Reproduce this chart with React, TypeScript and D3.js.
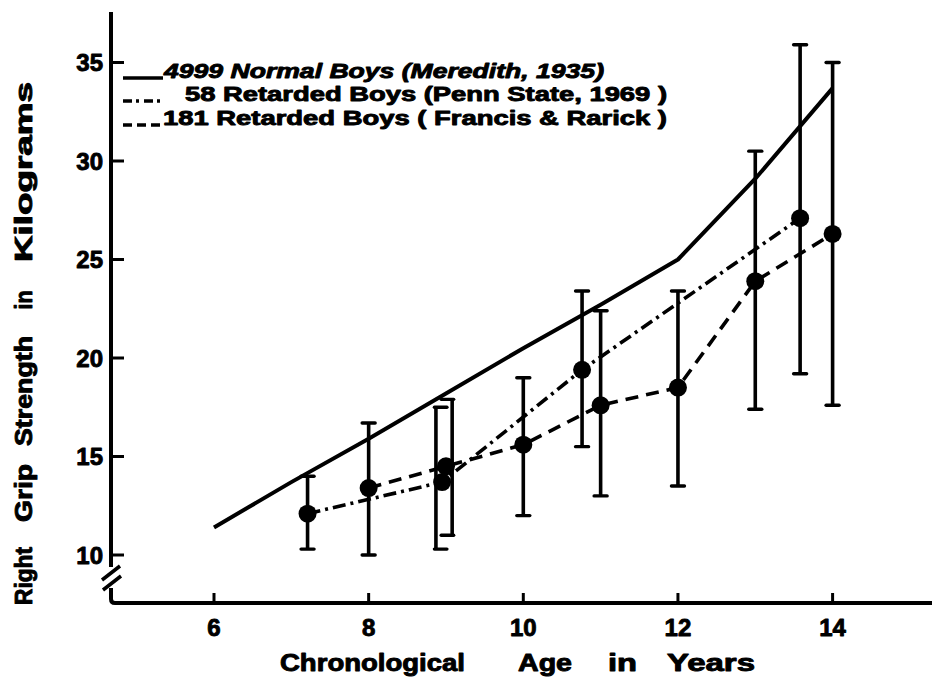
import React from "react";
import * as d3 from "d3";

// Axis ticks
const ageTicks = [6, 8, 10, 12, 14];
const gripTicks = [10, 15, 20, 25, 30, 35];

// 4999 normal boys (Meredith, 1935)
const normalAges = [6, 7, 8, 9, 10, 11, 12, 13, 14];
const normalGrip = [11.4, 13.7, 15.9, 18.2, 20.5, 22.7, 25.0, 29.1, 33.7];

// 58 retarded boys (Penn State, 1969)
const pennAges = [7.21, 8.95, 10.76, 13.58];
const pennGrip = [12.1, 13.7, 19.4, 27.1];
const pennBarAges = [7.21, 8.87, 10.76, 13.58];
const pennLow = [10.3, 10.3, 15.5, 19.2];
const pennHigh = [14.0, 17.5, 23.4, 35.9];

// 181 retarded boys (Francis & Rarick)
const frAges = [8, 9, 10, 11, 12, 13, 14];
const frGrip = [13.4, 14.5, 15.6, 17.6, 18.5, 23.9, 26.3];
const frBarAges = [8, 9.08, 10, 11, 12, 13, 14];
const frLow = [10.0, 11.0, 12.0, 13.0, 13.5, 17.4, 17.6];
const frHigh = [16.7, 17.9, 19.0, 22.4, 23.4, 30.5, 35.0];

const legendLabels = [
  "4999 Normal Boys (Meredith, 1935)",
  "58 Retarded Boys (Penn State, 1969 )",
  "181 Retarded Boys ( Francis & Rarick )",
];

const xTitleWords = ["Chronological", "Age", "in", "Years"];
const yTitleWords = ["Right", "Grip", "Strength", "in", "Kilograms"];

const W = 932;
const H = 680;
const INK = "#000";
const FONT = "'Liberation Sans', Arial, sans-serif";

const DASH_DOT = "13 5 3 5";
const DASHED = "13 8";

type Pt = { age: number; grip: number };
type Bar = { age: number; low: number; high: number; side: "center" | "left" | "right" };

export default function App() {
  const x = d3.scaleLinear().domain([6, 14]).range([214, 832.6]);
  const y = d3.scaleLinear().domain([10, 35]).range([555, 62.5]);

  const line = d3
    .line<Pt>()
    .x((d) => x(d.age))
    .y((d) => y(d.grip));

  const normal: Pt[] = normalAges.map((a, i) => ({ age: a, grip: normalGrip[i] }));
  const penn: Pt[] = pennAges.map((a, i) => ({ age: a, grip: pennGrip[i] }));
  const fr: Pt[] = frAges.map((a, i) => ({ age: a, grip: frGrip[i] }));

  // the two overlapping bars near age 9 are drawn as brackets
  const pennBars: Bar[] = pennBarAges.map((a, i) => ({
    age: a,
    low: pennLow[i],
    high: pennHigh[i],
    side: i === 1 ? "right" : "center",
  }));
  const frBars: Bar[] = frBarAges.map((a, i) => ({
    age: a,
    low: frLow[i],
    high: frHigh[i],
    side: i === 1 ? "left" : "center",
  }));

  const axisX = 111;
  const axisY = 603;
  const capW = 13;

  const capPath = (cx: number, cy: number, side: Bar["side"]) => {
    if (side === "right") return `M${cx - 1.5},${cy}H${cx + capW - 2}`;
    if (side === "left") return `M${cx + 1.5},${cy}H${cx - capW + 2}`;
    return `M${cx - capW / 2},${cy}H${cx + capW / 2}`;
  };

  const renderBars = (bars: Bar[], key: string) =>
    bars.map((b, i) => {
      const cx = x(b.age);
      const y0 = y(b.low);
      const y1 = y(b.high);
      return (
        <g key={`${key}-${i}`}>
          <line x1={cx} x2={cx} y1={y1} y2={y0} stroke={INK} strokeWidth={3.6} />
          <path d={capPath(cx, y1, b.side)} stroke={INK} strokeWidth={3.4} strokeLinecap="round" />
          <path d={capPath(cx, y0, b.side)} stroke={INK} strokeWidth={3.4} strokeLinecap="round" />
        </g>
      );
    });

  // x-axis title word centers and widths
  const xWordX = [372.5, 545, 622.5, 711];
  const xWordLen = [185, 54, 29, 88];
  // y-axis title word centers (along the axis) and lengths
  const yWordY = [576, 493, 391, 300, 172];
  const yWordLen = [58, 58, 110, 19, 180];

  const legendY = [78, 101, 125];
  const legendTextX = [164, 185, 163];
  const legendTextLen = [440, 482, 504];

  // heavy lettering
  const heavy = { stroke: INK, strokeWidth: 0.9, strokeLinejoin: "round" as const };

  return (
    <svg
      width={W}
      height={H}
      viewBox={`0 0 ${W} ${H}`}
      style={{ position: "absolute", left: 0, top: 0, background: "#fff" }}
      fontFamily={FONT}
      fontWeight="bold"
    >
      <rect width={W} height={H} fill="#fff" />

      {/* y axis with break */}
      <path d={`M${axisX},12V567`} stroke={INK} strokeWidth={4} fill="none" />
      <path d={`M102,580L120,566M103,590L121,576`} stroke={INK} strokeWidth={3.5} fill="none" />
      <path
        d={`M${axisX},588V${axisY - 4}Q${axisX},${axisY} ${axisX + 4},${axisY}H${W}`}
        stroke={INK}
        strokeWidth={4}
        fill="none"
      />

      {/* y ticks */}
      {gripTicks.map((t) => (
        <g key={`yt-${t}`}>
          <line x1={axisX} x2={axisX + 13} y1={y(t)} y2={y(t)} stroke={INK} strokeWidth={3} />
          <text x={103} y={y(t) + 8.5} textAnchor="end" fontSize={24} fill={INK} {...heavy}>
            {t}
          </text>
        </g>
      ))}

      {/* x ticks */}
      {ageTicks.map((t) => (
        <g key={`xt-${t}`}>
          <line x1={x(t)} x2={x(t)} y1={axisY} y2={axisY - 10} stroke={INK} strokeWidth={3} />
          <text x={x(t)} y={636} textAnchor="middle" fontSize={24} fill={INK} {...heavy}>
            {t}
          </text>
        </g>
      ))}

      {/* axis titles */}
      {xTitleWords.map((w, i) => (
        <text
          key={`xw-${i}`}
          x={xWordX[i] - xWordLen[i] / 2}
          y={671}
          fontSize={23}
          fill={INK}
          textLength={xWordLen[i]}
          lengthAdjust="spacingAndGlyphs"
          {...heavy}
        >
          {w}
        </text>
      ))}
      {yTitleWords.map((w, i) => (
        <text
          key={`yw-${i}`}
          transform={`translate(32,${yWordY[i]}) rotate(-90)`}
          x={-yWordLen[i] / 2}
          y={0}
          fontSize={23}
          fill={INK}
          textLength={yWordLen[i]}
          lengthAdjust="spacingAndGlyphs"
          {...heavy}
        >
          {w}
        </text>
      ))}

      {/* series lines */}
      <path d={line(normal) || ""} stroke={INK} strokeWidth={4} fill="none" strokeLinejoin="round" />
      <path d={line(penn) || ""} stroke={INK} strokeWidth={3.6} fill="none" strokeDasharray={DASH_DOT} />
      <path d={line(fr) || ""} stroke={INK} strokeWidth={3.6} fill="none" strokeDasharray={DASHED} />

      {/* error bars */}
      {renderBars(pennBars, "pb")}
      {renderBars(frBars, "fb")}

      {/* means */}
      {penn.map((d, i) => (
        <circle key={`pc-${i}`} cx={x(d.age)} cy={y(d.grip)} r={9} fill={INK} />
      ))}
      {fr.map((d, i) => (
        <circle key={`fc-${i}`} cx={x(d.age)} cy={y(d.grip)} r={9} fill={INK} />
      ))}

      {/* legend */}
      <line x1={123} x2={163} y1={legendY[0]} y2={legendY[0]} stroke={INK} strokeWidth={3.5} />
      <line x1={123} x2={165} y1={legendY[1]} y2={legendY[1]} stroke={INK} strokeWidth={3.5} strokeDasharray="9 4 3 5" />
      <line x1={123} x2={163} y1={legendY[2]} y2={legendY[2]} stroke={INK} strokeWidth={3.5} strokeDasharray="9 5" />
      {legendLabels.map((l, i) => (
        <text
          key={`lg-${i}`}
          x={legendTextX[i]}
          y={legendY[i]}
          fontSize={20}
          fill={INK}
          fontStyle={i === 0 ? "italic" : "normal"}
          textLength={legendTextLen[i]}
          lengthAdjust="spacingAndGlyphs"
          {...heavy}
        >
          {l}
        </text>
      ))}
    </svg>
  );
}
